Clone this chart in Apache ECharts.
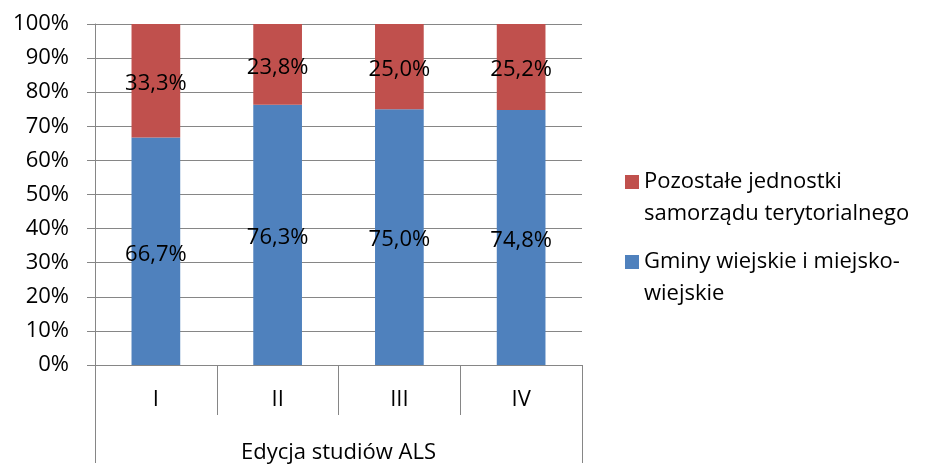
<!DOCTYPE html>
<html><head><meta charset="utf-8">
<script src="https://cdn.jsdelivr.net/npm/echarts@6/dist/echarts.min.js"></script>
<style>html,body{margin:0;padding:0;background:#fff}#c{width:929px;height:464px}</style>
</head><body><div id="c"></div>
<script>
const categories = ['I', 'II', 'III', 'IV'];
const groupLabel = ['Edycja studiów ALS'];
const gminy = [66.7, 76.3, 75.0, 74.8];
const pozostale = [33.3, 23.8, 25.0, 25.2];
const nameGminy = 'Gminy wiejskie i miejsko-wiejskie';
const namePoz = 'Pozostałe jednostki samorządu terytorialnego';
const legendText = {};
legendText[nameGminy] = 'Gminy wiejskie i miejsko-\nwiejskie';
legendText[namePoz] = 'Pozostałe jednostki\nsamorządu terytorialnego';

const FONT = 'Open Sans';
const FS = 22;
const fmt = p => p.value.toFixed(1).replace('.', ',') + '%';
const chart = echarts.init(document.getElementById('c'), null, {renderer: 'canvas'});
chart.setOption({
  animation: false,
  textStyle: {fontFamily: FONT},
  grid: {left: 95, right: 347, top: 24, bottom: 98, containLabel: false},
  legend: {
    orient: 'vertical', left: 625, top: 134, padding: 0,
    data: [namePoz, nameGminy],
    itemWidth: 14, itemHeight: 14, itemGap: -16,
    icon: 'rect',
    formatter: n => '\n' + legendText[n],
    textStyle: {fontSize: FS, color: '#000', lineHeight: 32, fontFamily: FONT}
  },
  xAxis: [{
    type: 'category', data: categories, position: 'bottom',
    axisLine: {show: true, lineStyle: {color: '#868686'}},
    axisTick: {show: true, length: 50, lineStyle: {color: '#868686'}},
    axisLabel: {color: '#000', fontSize: FS, margin: 24, fontFamily: FONT}
  }, {
    type: 'category', data: groupLabel, position: 'bottom',
    axisLine: {show: false},
    axisTick: {show: true, length: 98, lineStyle: {color: '#868686'}},
    axisLabel: {color: '#000', fontSize: FS, margin: 77, fontFamily: FONT}
  }],
  yAxis: {
    type: 'value', min: 0, max: 100, interval: 10,
    axisLine: {show: true, lineStyle: {color: '#868686'}},
    axisTick: {show: true, length: 8, lineStyle: {color: '#868686'}},
    splitLine: {show: true, lineStyle: {color: '#868686'}},
    axisLabel: {color: '#000', fontSize: FS, margin: 26, formatter: v => v + '%', fontFamily: FONT}
  },
  series: [{
    name: nameGminy, type: 'bar', stack: 's', data: gminy, barWidth: '40%',
    itemStyle: {color: '#4F81BD'},
    label: {show: true, position: 'inside', offset: [0, 3], color: '#000', fontSize: FS, formatter: fmt, fontFamily: FONT}
  }, {
    name: namePoz, type: 'bar', stack: 's', data: pozostale, barWidth: '40%',
    itemStyle: {color: '#C0504D'},
    label: {show: true, position: 'inside', offset: [0, 3], color: '#000', fontSize: FS, formatter: fmt, fontFamily: FONT}
  }]
});
</script></body></html>
